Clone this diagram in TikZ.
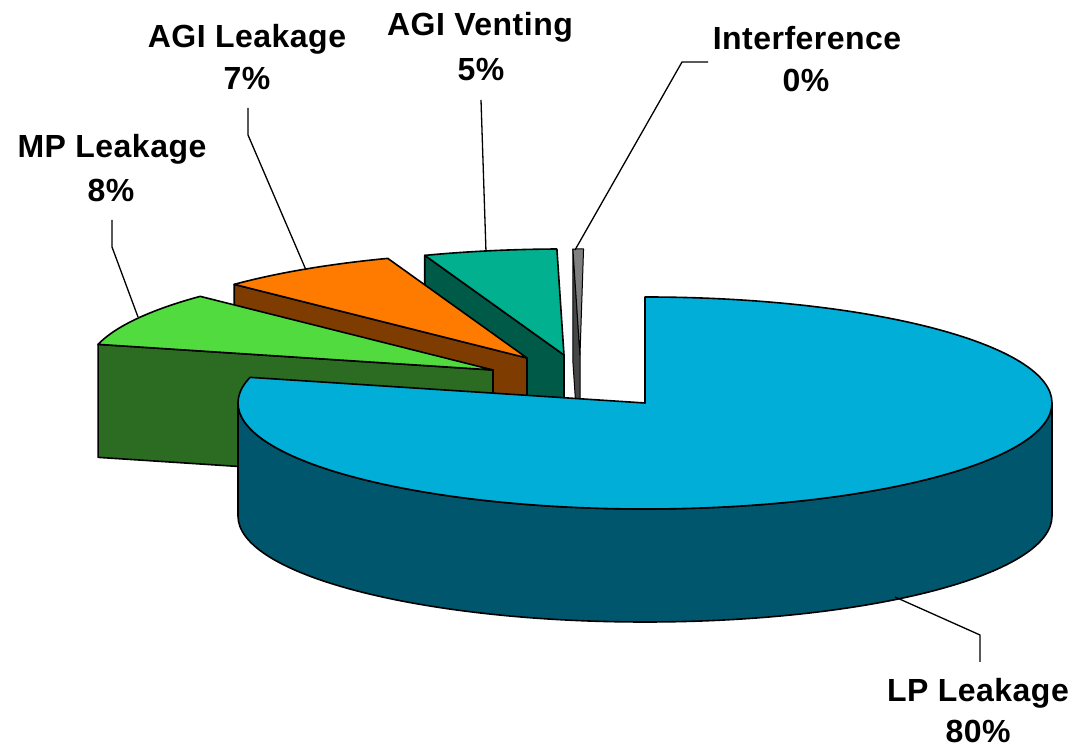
\documentclass[tikz,border=0pt]{standalone}
\usepackage{fontspec}
\setmainfont{Liberation Sans}[LetterSpace=1.5]
\usetikzlibrary{calc}
\definecolor{gtop}{RGB}{82,219,62}
\definecolor{gside}{RGB}{43,107,34}
\definecolor{otop}{RGB}{255,123,0}
\definecolor{oside}{RGB}{127,60,0}
\definecolor{ttop}{RGB}{0,176,142}
\definecolor{tside}{RGB}{0,90,72}
\definecolor{ytop}{RGB}{128,128,128}
\definecolor{yside}{RGB}{70,70,70}
\definecolor{ltop}{RGB}{0,174,216}
\definecolor{lside}{RGB}{0,86,108}
\tikzset{
  face/.style={draw=black, line width=1.6bp, line join=round},
  lbl/.style={inner sep=0pt, anchor=base, font=\bfseries\fontsize{32bp}{42bp}\selectfont},
  leader/.style={draw=black, line width=1.3bp},
  ea/.style={x radius=407bp, y radius=106bp}
}
\begin{document}
\begin{tikzpicture}[x=1bp,y=1bp]
\useasboundingbox (0,0) rectangle (1077,749);
% slice apexes
\coordinate (Y) at (580,394);
\coordinate (T) at (564,394);
\coordinate (O) at (527,391);
\coordinate (G) at (493,379);
\coordinate (L) at (645,346);
% Interference (grey)
\filldraw[face, fill=yside, line width=1bp] (Y) -- ++(91:407bp and 106bp) -- ++(0,-113) -- ($(Y)+(0,-113)$) -- cycle;
\filldraw[face, fill=ytop, line width=1bp] (Y) -- ++(91:407bp and 106bp) arc[start angle=91, end angle=89.5, ea] -- cycle;
% AGI Venting (teal)
\filldraw[face, fill=tside] (T) -- ++(110:407bp and 106bp) -- ++(0,-113) -- ($(T)+(0,-113)$) -- cycle;
\filldraw[face, fill=ttop] (T) -- ++(110:407bp and 106bp) arc[start angle=110, end angle=91, ea] -- cycle;
% AGI Leakage (orange)
\filldraw[face, fill=oside] (O) -- ++(136:407bp and 106bp) -- ++(0,-113) -- ($(O)+(0,-113)$) -- cycle;
\filldraw[face, fill=otop] (O) -- ++(136:407bp and 106bp) arc[start angle=136, end angle=110, ea] -- cycle;
% MP Leakage (green)
\filldraw[face, fill=gside] (G) -- ++(166:407bp and 106bp) -- ++(0,-113) -- ($(G)+(0,-113)$) -- cycle;
\filldraw[face, fill=gtop] (G) -- ++(166:407bp and 106bp) arc[start angle=166, end angle=136, ea] -- cycle;
% LP Leakage (blue)
\filldraw[face, fill=lside] (L) ++(180:407bp and 106bp) arc[start angle=180, end angle=360, ea] -- ++(0,-113) arc[start angle=360, end angle=180, ea] -- cycle;
\filldraw[face, fill=ltop] (L) -- ++(90:407bp and 106bp) arc[start angle=90, end angle=-194, ea] -- cycle;
% labels
\node[lbl] (mp1) at (112,591) {MP Leakage};
\node[lbl] (mp2) at (111,547) {8\%};
\node[lbl] (al1) at (247,701) {AGI Leakage};
\node[lbl] (al2) at (247,659) {7\%};
\node[lbl] (av1) at (480,713) {AGI Venting};
\node[lbl] (av2) at (481,668) {5\%};
\node[lbl] (in1) at (807,699) {Interference};
\node[lbl] (in2) at (806,657) {0\%};
\node[lbl] (lp1) at (978,47) {LP Leakage};
\node[lbl] (lp2) at (978,6) {80\%};
% leader ends
\coordinate (mpS) at (112,529);
\coordinate (mpK) at (112,502);
\coordinate (mpE) at (138,432);
\coordinate (alS) at (248,641);
\coordinate (alK) at (248,614);
\coordinate (alE) at (306,479);
\coordinate (avS) at (481,649);
\coordinate (avE) at (486,497);
\coordinate (inS) at (708,687);
\coordinate (inK) at (682,687);
\coordinate (inE) at (575,499);
\coordinate (lpS) at (980,87);
\coordinate (lpK) at (980,114);
\coordinate (lpE) at (895,152);
\draw[leader] (mpS) -- (mpK) -- (mpE);
\draw[leader] (alS) -- (alK) -- (alE);
\draw[leader] (avS) -- (avE);
\draw[leader] (inS) -- (inK) -- (inE);
\draw[leader] (lpS) -- (lpK) -- (lpE);
\end{tikzpicture}
\end{document}
